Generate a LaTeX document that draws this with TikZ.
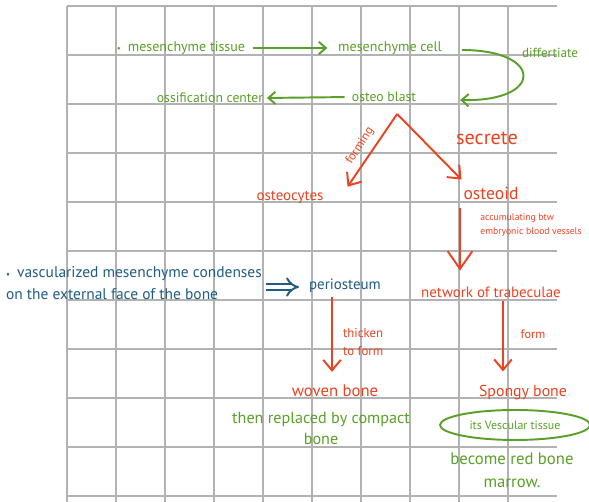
\documentclass[tikz,border=0pt]{standalone}
\usepackage{fontspec}
\setmainfont{PT Sans}
\usetikzlibrary{positioning}
\usetikzlibrary{calc}
\usetikzlibrary{arrows.meta}
\usetikzlibrary{shapes.geometric}
\definecolor{green}{RGB}{90,160,40}
\definecolor{red}{RGB}{236,66,32}
\definecolor{blue}{RGB}{32,92,130}

\begin{document}
\begin{tikzpicture}[x=0.02cm, y=-0.02cm,
  gridline/.style={gray!60, line width=1.1pt},
  gtext/.style={green, inner sep=1pt},
  rtext/.style={red, inner sep=1pt},
  btext/.style={blue, inner sep=1pt},
  sz/.style 2 args={font=\fontsize{#1}{#2}\selectfont},
  garrow/.style={green, line width=1.1pt, -{Straight Barb[length=4pt,width=7pt]}},
  rarrow/.style={red, line width=1.1pt, -{Straight Barb[length=6pt,width=10pt]}},
  rbig/.style={red, line width=1.1pt, -{Straight Barb[length=10pt,width=14pt]}}]

\useasboundingbox (0,0) rectangle (589,502);

%---------------------------------------
% Grid paper
%---------------------------------------
\foreach \x in {67,116,...,508}
  \draw[gridline] (\x,6) -- (\x,502);
\foreach \y in {6,55,...,496}
  \draw[gridline] (67,\y) -- (557,\y);

%---------------------------------------
% Top: mesenchyme -> osteoblast
%---------------------------------------
\node[gtext, sz={8}{10}] (tissue) at (181,48) {{\tiny\textbullet}\hspace{4pt}mesenchyme tissue};
\node[gtext, sz={8}{10}] (cell) at (390,48) {mesenchyme cell};
\node[gtext, sz={7.5}{9}, anchor=west] (differ) at (520,53) {differtiate};
\node[gtext, sz={7.8}{9}] (center) at (210,98) {ossification center};
\node[gtext, sz={7.8}{9}] (blast) at (384,97) {osteo blast};

\draw[garrow, shorten <=3pt, shorten >=5pt] (tissue.east) -- (cell.west);
\draw[garrow] ($(cell.east)+(18,2)$) .. controls (544,50) and (544,102) .. ($(blast.east)+(42,3)$);
\draw[garrow, shorten <=3pt, shorten >=1pt] (blast.west) -- (center.east);

%---------------------------------------
% Osteoblast products
%---------------------------------------
\node[rtext, sz={8.5}{10}] (osteocytes) at (290,197) {osteocytes};
\node[rtext, sz={10}{12}] (osteoid) at (491,193) {osteoid};
\node[rtext, sz={11.5}{13}] (secrete) at (487,138) {secrete};
\node[rtext, sz={7}{8}, rotate=57] (forming) at (360,146) {forming};
\node[rtext, sz={5.5}{8}, align=left] (accum) at (531,225) {accumulating btw\\embryonic blood vessels};
\node[rtext, sz={8.5}{10}] (trab) at (491,292) {network of trabeculae};

\draw[rarrow] ($(blast.south east)+(-21,10)$) -- ($(osteocytes.north east)+(22,-2)$);
\draw[rarrow] ($(blast.south east)+(-21,10)$) -- ($(osteoid.north west)+(0,-5)$);
\draw[rbig] ($(osteoid.south)+(-31,7)$) -- ($(trab.north)+(-31,-14)$);

%---------------------------------------
% Periosteum side
%---------------------------------------
\node[btext, sz={8.8}{12.5}, align=left, anchor=west] (vasc) at (4,283)
  {{\tiny\textbullet}\hspace{4pt}vascularized mesenchyme condenses\\ on the external face of the bone};
\node[btext, sz={8.5}{10}] (peri) at (345,286) {periosteum};
\node[rtext, sz={7.3}{10}, align=left, anchor=west] (thicken) at (341,342) {thicken\\ to form};
\node[rtext, sz={7}{8}] (form) at (533,334) {form};

\draw[blue, double, double distance=2.6pt, line width=1.1pt, -{Implies}] ($(vasc.east)+(2,4)$) -- ($(peri.west)+(-8,1)$);
\draw[rarrow] ($(peri.south)+(-13,2)$) -- ($(peri.south)+(-13,77)$);
\draw[rarrow] ($(trab.south)+(12,2)$) -- ($(trab.south)+(12,72)$);

%---------------------------------------
% Bones
%---------------------------------------
\node[rtext, sz={9.5}{10}] (woven) at (335,391) {woven bone};
\node[rtext, sz={9}{10}] (spongy) at (523,393) {Spongy bone};
\node[gtext, sz={9.2}{12}, align=center] (replaced) at (321,428) {then replaced by compact\\bone};
\node[gtext, draw=green, line width=1.1pt, ellipse, minimum width=3cm, minimum height=0.6cm, sz={6.8}{8}] (vtissue) at (515,425) {its Vescular tissue};
\node[gtext, sz={9.5}{13}, align=center] (marrow) at (512,470) {become red bone\\marrow.};

\end{tikzpicture}
\end{document}
